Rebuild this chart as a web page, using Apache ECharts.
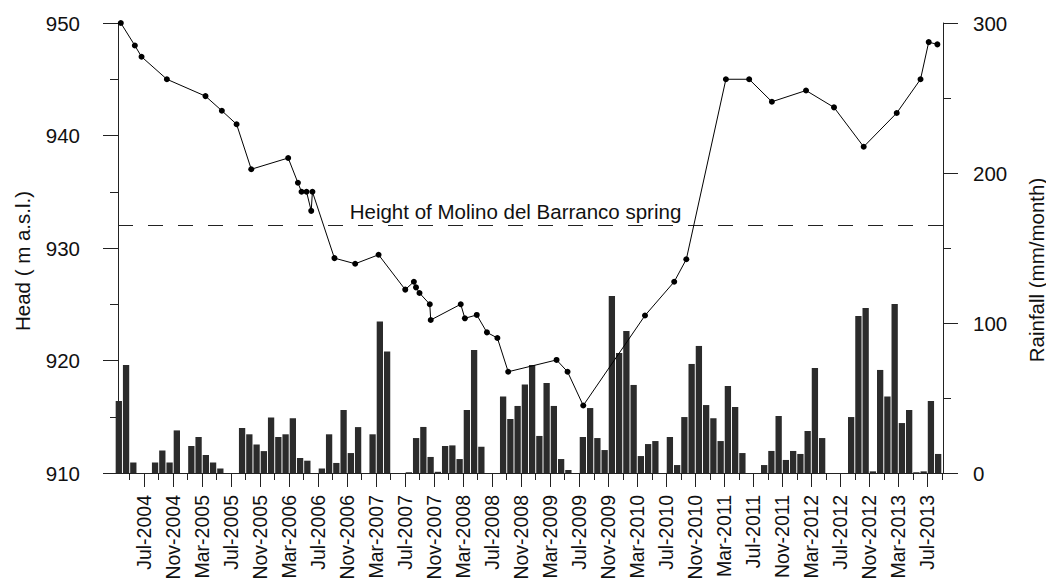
<!DOCTYPE html>
<html><head><meta charset="utf-8">
<script src="https://cdn.jsdelivr.net/npm/echarts@6/dist/echarts.min.js"></script>
<style>html,body{margin:0;padding:0;background:#fff}#c{width:1046px;height:584px}</style>
</head><body><div id="c"></div>
<script>
// ---- data ----
const axisStart = '2004-03-13';
const axisEnd = '2013-09-06';
const rainStartMonth = '2004-03';
const rainfall = [
  48, 72, 7, 0, 0, 7, 15, 7, 28.4, 0,
  18, 24, 12, 7, 3, 0, 0, 30, 25.8, 19, 14.6, 37,
  24, 25.8, 36.5, 10, 8.2, 0, 3, 25.8, 6.7, 42, 13.3, 30.6,
  0, 25.8, 101, 81, 0, 0, 0.5, 23.3, 30.7, 10.7, 0.8, 18,
  18.4, 9.3, 42, 82, 17.5, 0, 0, 51, 36, 44.7, 59, 72,
  24.7, 60, 44.7, 9.3, 2, 0, 24, 43.3, 23.3, 15.3, 118, 80,
  94.7, 58.7, 11.3, 19.3, 21.3, 0, 24, 5.3, 37.3, 72.7, 84.7, 45.3,
  36.5, 21.3, 58, 44, 13.3, 0, 0, 5.3, 14.7, 38, 8.7, 14.7,
  12.7, 28, 70, 23.3, 0, 0, 0, 37.3, 104.7, 110, 1.1, 68.7,
  51, 112.7, 33.3, 42, 0.5, 1.1, 48, 12.7
];
const headDates = [
  '2004-03-25','2004-05-23','2004-06-20','2004-10-05','2005-03-15','2005-05-23','2005-07-24','2005-09-24',
  '2006-02-25','2006-04-07','2006-04-22','2006-05-13','2006-06-02','2006-06-07','2006-09-08','2006-12-04',
  '2007-03-11','2007-07-01','2007-08-07','2007-08-16','2007-08-31','2007-10-13','2007-10-17','2008-02-20',
  '2008-03-08','2008-04-27','2008-06-09','2008-07-23','2008-09-07','2009-03-28','2009-05-13','2009-07-18',
  '2010-04-03','2010-08-04','2010-09-24','2011-03-08','2011-06-14','2011-09-18','2012-02-09','2012-06-05',
  '2012-10-08','2013-02-23','2013-06-03','2013-07-07','2013-08-13'
];
const headValues = [
  950.0, 948.0, 947.0, 945.0, 943.5, 942.2, 941.0, 937.0,
  938.0, 935.8, 935.0, 935.0, 933.3, 935.0, 929.1, 928.6,
  929.4, 926.3, 927.0, 926.5, 926.0, 925.0, 923.6, 925.0,
  923.75, 924.05, 922.5, 922.0, 919.0, 920.05, 919.0, 916.0,
  924.0, 927.0, 929.0, 945.0, 945.0, 943.0, 944.0, 942.5,
  939.0, 942.0, 945.0, 948.3, 948.1
];
const springHeight = 932;
const springLabel = 'Height of Molino del Barranco spring';
const xTickLabels = [
  'Jul-2004','Nov-2004','Mar-2005','Jul-2005','Nov-2005','Mar-2006','Jul-2006','Nov-2006',
  'Mar-2007','Jul-2007','Nov-2007','Mar-2008','Jul-2008','Nov-2008','Mar-2009','Jul-2009',
  'Nov-2009','Mar-2010','Jul-2010','Nov-2010','Mar-2011','Jul-2011','Nov-2011','Mar-2012',
  'Jul-2012','Nov-2012','Mar-2013','Jul-2013'
];
const headAxis = {min: 910, max: 950, interval: 10};
const rainAxis = {min: 0, max: 300, interval: 100};
const headTitle = 'Head ( m a.s.l.)';
const rainTitle = 'Rainfall (mm/month)';

// ---- helpers: months since Jan 2004 ----
const MON = ['Jan','Feb','Mar','Apr','May','Jun','Jul','Aug','Sep','Oct','Nov','Dec'];
function dateToMonth(s) {
  const p = s.split('-').map(Number);
  const y = p[0], m = p[1], d = p[2] || 1;
  const dim = new Date(y, m, 0).getDate();
  return (y - 2004) * 12 + (m - 1) + (d - 1) / dim;
}
function labelToMonth(s) {
  const [mm, yy] = s.split('-');
  return (Number(yy) - 2004) * 12 + MON.indexOf(mm);
}
const xMin = dateToMonth(axisStart);
const xMax = dateToMonth(axisEnd);
const rain0 = dateToMonth(rainStartMonth);
const barData = rainfall.map((v, i) => [rain0 + i + 0.5, v]);
const lineData = headDates.map((d, i) => [dateToMonth(d), headValues[i]]);
const majorPos = xTickLabels.map(labelToMonth);
const minorPos = majorPos.map(v => v - 2).concat([majorPos[majorPos.length - 1] + 2]);
const labelMap = {};
xTickLabels.forEach(l => { labelMap[labelToMonth(l)] = l; });

const FONT = 'Liberation Sans, Arial, Helvetica, sans-serif';
const INK = '#111';
const LINE = '#222';

const chart = echarts.init(document.getElementById('c'), null, {renderer: 'svg'});
chart.setOption({
  animation: false,
  backgroundColor: '#fff',
  grid: {left: 118, right: 103, top: 23, bottom: 111, containLabel: false},
  xAxis: [{
    type: 'value', min: xMin, max: xMax, position: 'bottom',
    axisLine: {show: true, lineStyle: {color: LINE, width: 1}},
    axisTick: {show: true, length: 14, customValues: majorPos, lineStyle: {color: LINE}},
    axisLabel: {customValues: majorPos, rotate: 90, margin: 22, fontSize: 19.5, color: INK, fontFamily: FONT,
      formatter: v => labelMap[Math.round(v)] || ''},
    splitLine: {show: false}
  }, {
    type: 'value', min: xMin, max: xMax, position: 'bottom',
    axisLine: {show: false},
    axisTick: {show: true, length: 7, customValues: minorPos, lineStyle: {color: LINE}},
    axisLabel: {show: false},
    splitLine: {show: false}
  }],
  yAxis: [{
    type: 'value', min: headAxis.min, max: headAxis.max, interval: headAxis.interval, position: 'left',
    axisLine: {show: true, lineStyle: {color: LINE, width: 1}},
    axisTick: {show: true, length: 15, lineStyle: {color: LINE}},
    minorTick: {show: true, splitNumber: 2, length: 8, lineStyle: {color: LINE}},
    axisLabel: {margin: 38, fontSize: 20.5, color: INK, fontFamily: FONT},
    splitLine: {show: false}, minorSplitLine: {show: false}
  }, {
    type: 'value', min: rainAxis.min, max: rainAxis.max, interval: rainAxis.interval, position: 'right',
    axisLine: {show: true, lineStyle: {color: LINE, width: 1}},
    axisTick: {show: true, length: 15, lineStyle: {color: LINE}},
    minorTick: {show: true, splitNumber: 2, length: 8, lineStyle: {color: LINE}},
    axisLabel: {margin: 30, fontSize: 20.5, color: INK, fontFamily: FONT},
    splitLine: {show: false}, minorSplitLine: {show: false}
  }],
  graphic: [{
    type: 'text', x: 22, y: 261, rotation: Math.PI / 2,
    style: {text: headTitle, font: '20.5px ' + FONT, fill: INK, align: 'center', verticalAlign: 'middle'}
  }, {
    type: 'text', x: 1036, y: 270, rotation: Math.PI / 2,
    style: {text: rainTitle, font: '20.5px ' + FONT, fill: INK, align: 'center', verticalAlign: 'middle'}
  }],
  series: [{
    type: 'bar', name: 'Rainfall', xAxisIndex: 0, yAxisIndex: 1,
    data: barData, barWidth: 6.3, clip: true,
    itemStyle: {color: '#2b2b2b'}, z: 2
  }, {
    type: 'line', name: 'Head', xAxisIndex: 0, yAxisIndex: 0,
    data: lineData, symbol: 'circle', symbolSize: 6, showSymbol: true,
    lineStyle: {color: '#000', width: 1}, itemStyle: {color: '#000'}, z: 5,
    markLine: {
      silent: true, symbol: 'none', animation: false,
      lineStyle: {type: [15, 15], color: LINE, width: 1},
      label: {show: true, position: 'insideMiddleTop', formatter: springLabel, fontSize: 20.5,
        color: INK, fontFamily: FONT, distance: 4, offset: [-15, 0]},
      emphasis: {disabled: true},
      data: [{yAxis: springHeight}]
    }
  }]
});
</script></body></html>
